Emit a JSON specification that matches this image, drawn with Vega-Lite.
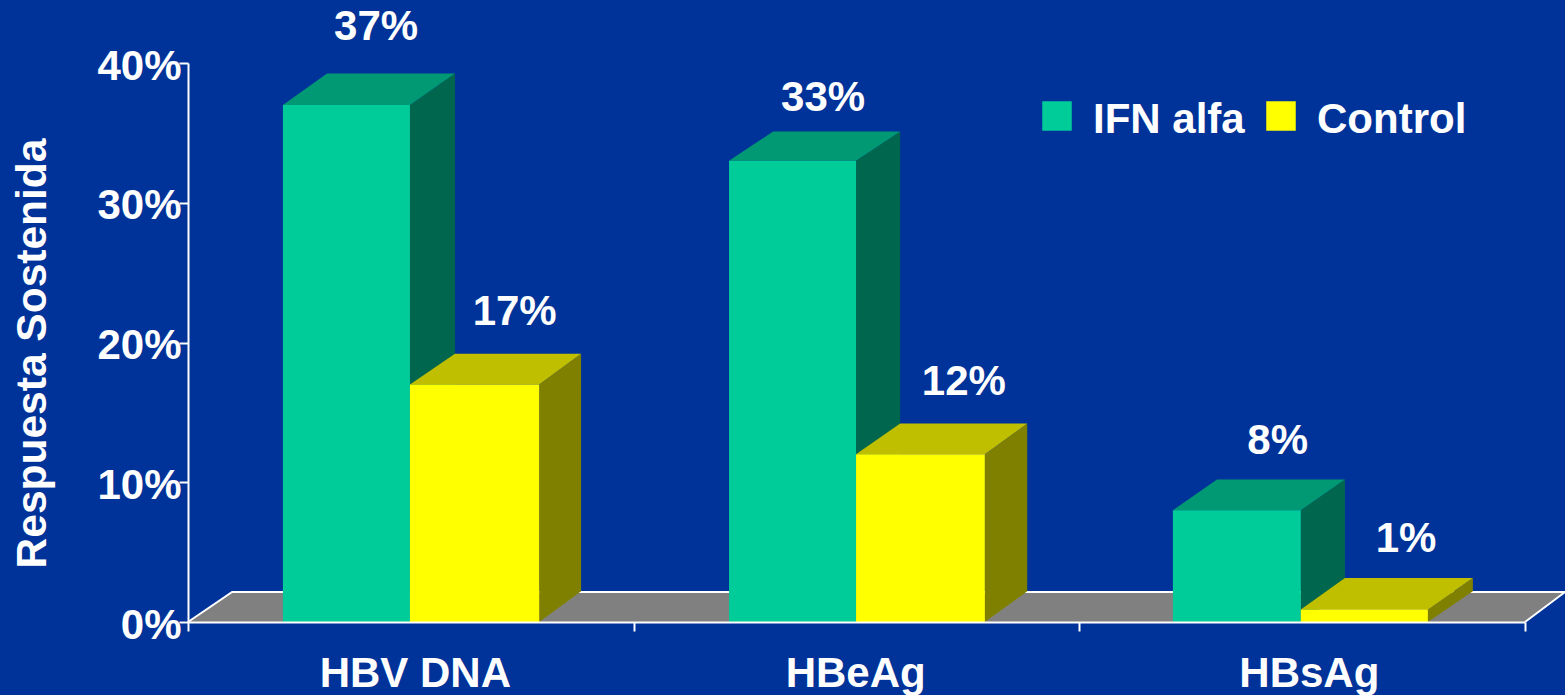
{
  "$schema": "https://vega.github.io/schema/vega-lite/v6.json",
  "width": 1337,
  "height": 559,
  "autosize": {"type": "none"},
  "padding": {"left": 188, "top": 63, "right": 40, "bottom": 73},
  "background": "#003399",
  "config": {
    "view": {"stroke": null},
    "font": "Liberation Sans",
    "axis": {"grid": false, "domainColor": "white", "domainWidth": 2, "tickColor": "white", "tickWidth": 2, "tickSize": 9, "labelColor": "white", "labelFont": "Liberation Sans", "labelFontWeight": "bold", "labelFontSize": 42, "titleColor": "white", "titleFont": "Liberation Sans", "titleFontWeight": "bold", "titleFontSize": 42.5, "labelOverlap": false, "labelBound": false, "labelFlush": false, "labelLimit": 500}
  },
  "datasets": {
    "bars": [
      {"categoria": "HBV DNA", "shade": "IFN alfa", "xl": 0.213, "xr": 0.498, "base": 0, "valor": 37},
      {"categoria": "HBV DNA", "shade": "Control", "xl": 0.498, "xr": 0.788, "base": 0, "valor": 17},
      {"categoria": "HBeAg", "shade": "IFN alfa", "xl": 1.214, "xr": 1.499, "base": 0, "valor": 33},
      {"categoria": "HBeAg", "shade": "Control", "xl": 1.499, "xr": 1.788, "base": 0, "valor": 12},
      {"categoria": "HBsAg", "shade": "IFN alfa", "xl": 2.21, "xr": 2.497, "base": 0, "valor": 8},
      {"categoria": "HBsAg", "shade": "Control", "xl": 2.497, "xr": 2.782, "base": 0, "valor": 0.9}
    ],
    "sides": [
      {"id": "a", "shade": "IFN alfa lado", "x": 0.498, "lo": 0, "hi": 37},
      {"id": "a", "shade": "IFN alfa lado", "x": 0.599, "lo": 2.2, "hi": 39.25},
      {"id": "b", "shade": "Control lado", "x": 0.788, "lo": 0, "hi": 17},
      {"id": "b", "shade": "Control lado", "x": 0.882, "lo": 2.2, "hi": 19.2},
      {"id": "c", "shade": "IFN alfa lado", "x": 1.499, "lo": 0, "hi": 33},
      {"id": "c", "shade": "IFN alfa lado", "x": 1.598, "lo": 2.2, "hi": 35.1},
      {"id": "d", "shade": "Control lado", "x": 1.788, "lo": 0, "hi": 12},
      {"id": "d", "shade": "Control lado", "x": 1.883, "lo": 2.2, "hi": 14.2},
      {"id": "e", "shade": "IFN alfa lado", "x": 2.497, "lo": 0, "hi": 8},
      {"id": "e", "shade": "IFN alfa lado", "x": 2.596, "lo": 2.2, "hi": 10.2},
      {"id": "f", "shade": "Control lado", "x": 2.782, "lo": 0, "hi": 0.9},
      {"id": "f", "shade": "Control lado", "x": 2.883, "lo": 2.2, "hi": 3.15}
    ],
    "tops": [
      {"id": "a", "shade": "IFN alfa tope", "y": 37, "xl": 0.213, "xr": 0.498},
      {"id": "a", "shade": "IFN alfa tope", "y": 39.25, "xl": 0.312, "xr": 0.599},
      {"id": "b", "shade": "Control tope", "y": 17, "xl": 0.498, "xr": 0.788},
      {"id": "b", "shade": "Control tope", "y": 19.2, "xl": 0.599, "xr": 0.882},
      {"id": "c", "shade": "IFN alfa tope", "y": 33, "xl": 1.214, "xr": 1.499},
      {"id": "c", "shade": "IFN alfa tope", "y": 35.1, "xl": 1.313, "xr": 1.598},
      {"id": "d", "shade": "Control tope", "y": 12, "xl": 1.499, "xr": 1.788},
      {"id": "d", "shade": "Control tope", "y": 14.2, "xl": 1.598, "xr": 1.883},
      {"id": "e", "shade": "IFN alfa tope", "y": 8, "xl": 2.21, "xr": 2.497},
      {"id": "e", "shade": "IFN alfa tope", "y": 10.2, "xl": 2.309, "xr": 2.596},
      {"id": "f", "shade": "Control tope", "y": 0.9, "xl": 2.497, "xr": 2.782},
      {"id": "f", "shade": "Control tope", "y": 3.15, "xl": 2.596, "xr": 2.883}
    ],
    "floor": [
      {"y": 0, "xl": 0, "xr": 3},
      {"y": 2.15, "xl": 0.099, "xr": 3.09}
    ],
    "edge": [
      {"orden": 1, "x": 0, "y": 0},
      {"orden": 2, "x": 0.099, "y": 2.15},
      {"orden": 3, "x": 3.09, "y": 2.15},
      {"orden": 4, "x": 3, "y": 0}
    ],
    "labels": [
      {"texto": "37%", "x": 0.422, "y": 42.55},
      {"texto": "17%", "x": 0.733, "y": 22.2},
      {"texto": "33%", "x": 1.425, "y": 37.5},
      {"texto": "12%", "x": 1.741, "y": 17.2},
      {"texto": "8%", "x": 2.445, "y": 12.95},
      {"texto": "1%", "x": 2.733, "y": 5.95}
    ]
  },
  "layer": [
    {
      "data": {"name": "floor"},
      "mark": {"type": "area", "orient": "horizontal", "color": "#808080", "clip": false},
      "encoding": {
        "y": {"field": "y", "type": "quantitative", "stack": null, "scale": {"domain": [0, 40]},
          "axis": {"values": [0, 10, 20, 30, 40], "labelExpr": "datum.value + '%'", "labelPadding": -2, "labelOffset": 3, "title": "Respuesta Sostenida", "titleX": -156, "titleY": 290, "titleAngle": 270, "titleAlign": "center", "titleBaseline": "middle"}},
        "x": {"field": "xl", "type": "quantitative", "stack": null, "scale": {"domain": [0, 3]},
          "axis": {"values": [0, 1, 2, 3, 0.509, 1.497, 2.515], "title": null, "zindex": 1, "labelPadding": 22,
            "tickOpacity": {"condition": {"test": "datum.value % 1 === 0", "value": 1}, "value": 0},
            "labelExpr": "datum.value === 0.509 ? 'HBV DNA' : datum.value === 1.497 ? 'HBeAg' : datum.value === 2.515 ? 'HBsAg' : ''"}},
        "x2": {"field": "xr"}
      }
    },
    {
      "data": {"name": "edge"},
      "mark": {"type": "line", "color": "white", "strokeWidth": 2, "clip": false},
      "encoding": {
        "x": {"field": "x", "type": "quantitative"},
        "y": {"field": "y", "type": "quantitative"},
        "order": {"field": "orden", "type": "ordinal"}
      }
    },
    {
      "data": {"name": "sides"},
      "mark": {"type": "area", "clip": false},
      "encoding": {
        "x": {"field": "x", "type": "quantitative"},
        "y": {"field": "lo", "type": "quantitative", "stack": null},
        "y2": {"field": "hi"},
        "detail": {"field": "id"},
        "color": {"field": "shade", "type": "nominal"}
      }
    },
    {
      "data": {"name": "tops"},
      "mark": {"type": "area", "orient": "horizontal", "clip": false},
      "encoding": {
        "y": {"field": "y", "type": "quantitative", "stack": null},
        "x": {"field": "xl", "type": "quantitative", "stack": null},
        "x2": {"field": "xr"},
        "detail": {"field": "id"},
        "color": {"field": "shade", "type": "nominal"}
      }
    },
    {
      "data": {"name": "bars"},
      "mark": {"type": "rect", "clip": false},
      "encoding": {
        "x": {"field": "xl", "type": "quantitative"},
        "x2": {"field": "xr"},
        "y": {"field": "valor", "type": "quantitative"},
        "y2": {"field": "base"},
        "color": {
          "field": "shade", "type": "nominal",
          "scale": {
            "domain": ["IFN alfa", "Control", "IFN alfa lado", "Control lado", "IFN alfa tope", "Control tope"],
            "range": ["#00CC99", "#FFFF00", "#00664D", "#808000", "#009973", "#BFBF00"]
          },
          "legend": {
            "values": ["IFN alfa", "Control"], "title": null, "orient": "none", "legendX": 848, "legendY": 32,
            "direction": "horizontal", "columns": 2, "symbolType": "square", "symbolSize": 870, "symbolStrokeWidth": 0, "symbolOpacity": 1,
            "labelFontSize": 42, "labelFontWeight": "bold", "labelColor": "white", "labelFont": "Liberation Sans", "labelOffset": 15, "columnPadding": 15, "labelLimit": 400,
            "encoding": {"labels": {"dy": {"value": 4}}}
          }
        }
      }
    },
    {
      "data": {"name": "labels"},
      "mark": {"type": "text", "color": "white", "fontSize": 42, "fontWeight": "bold", "font": "Liberation Sans", "align": "center", "baseline": "middle", "clip": false},
      "encoding": {
        "x": {"field": "x", "type": "quantitative"},
        "y": {"field": "y", "type": "quantitative"},
        "text": {"field": "texto"}
      }
    }
  ]
}
